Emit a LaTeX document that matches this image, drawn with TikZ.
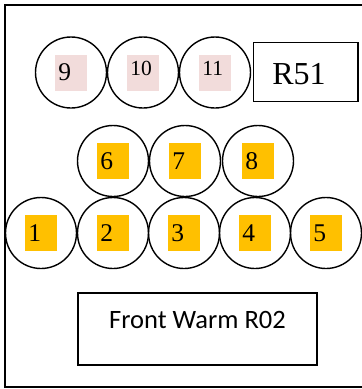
\documentclass[tikz,border=0pt]{standalone}
\usepackage{fontspec}
\setmainfont{Liberation Serif}
\newfontfamily\calib{Carlito}
\definecolor{gold}{HTML}{FFC000}
\definecolor{rose}{HTML}{F2DCDB}
\begin{document}
\begin{tikzpicture}[x=1pt,y=-1pt,
    drum/.style={circle,draw,line width=1.4pt,minimum size=71pt,inner sep=0pt},
    tag/.style={inner sep=0pt,inner xsep=3pt,text width=25.4pt,align=left,
      text height=26pt,text depth=10pt,font=\fontsize{25.5}{26}\selectfont},
    tagsmall/.style={tag,text height=21pt,text depth=15pt,font=\fontsize{21.5}{22}\selectfont}]
  \useasboundingbox (0,0) rectangle (362,389);
  \draw[line width=1.6pt] (5,5) rectangle (370,387);
  % drums
  \foreach \n/\x/\y in {1/41/233,2/113/233,3/184/233,4/255/233,5/326/233,
                        6/113/161,7/185/161,8/258/161,
                        9/71/72.5,10/143/72.5,11/215/72.5}
    \node[drum] (c\n) at (\x,\y) {};
  \foreach \n in {1,...,8}
    \node[tag,fill=gold] (t\n) at (c\n) {\n};
  \node[tag,fill=rose] (t9) at (c9) {9};
  \node[tagsmall,fill=rose] (t10) at (c10) {10};
  \node[tagsmall,fill=rose] (t11) at (c11) {11};
  % boxes
  \node[draw,line width=1.3pt,minimum width=104.5pt,minimum height=59pt,
    inner sep=0pt,inner xsep=19pt,text width=66.5pt,align=left,
    text height=24pt,text depth=0pt,font=\fontsize{32}{34}\selectfont]
    (r51) at (305.6,72.2) {R51};
  \node[draw,line width=1.3pt,minimum width=239pt,minimum height=72pt,
    inner sep=0pt,text height=16.5pt,text depth=17.9pt,
    font=\calib\fontsize{26.5}{28}\selectfont]
    (warm) at (197.5,329) {Front Warm R02};
\end{tikzpicture}
\end{document}
